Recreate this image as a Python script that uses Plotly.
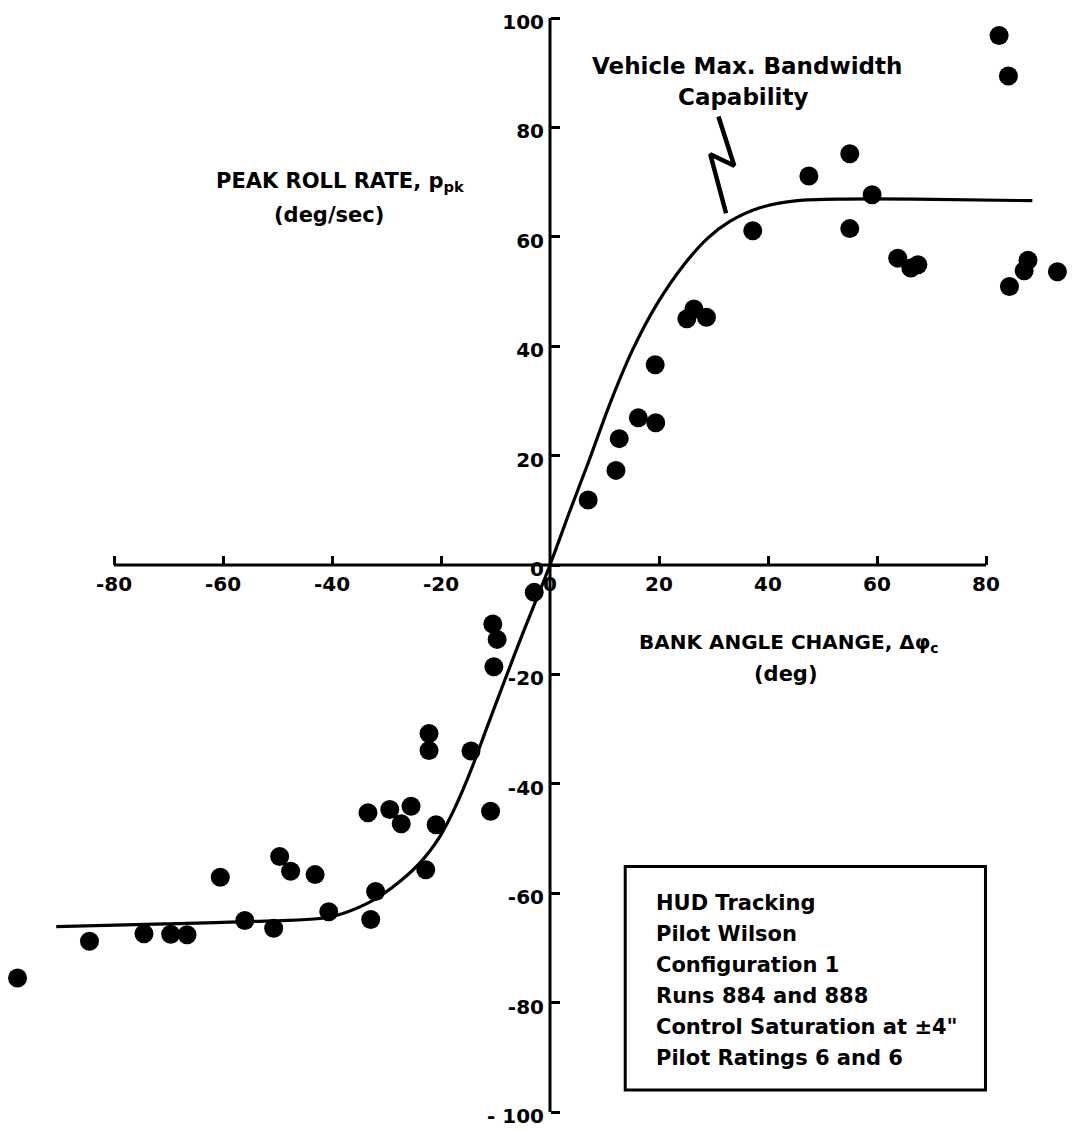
import plotly.graph_objects as go

# ---- data ----
bank_angle = [7.0, 12.1, 12.7, 16.2, 19.4, 19.3, 25.1, 26.4, 28.7, 37.2, 47.5, 55.0, 55.0,
              59.1, 63.8, 66.2, 67.5, 82.4, 84.1, 84.3, 87.0, 87.7, 93.1,
              -2.9, -10.5, -9.7, -10.3, -10.9, -14.5, -22.2, -22.2, -20.9, -22.8, -25.5,
              -27.3, -29.4, -33.4, -32.0, -32.9, -40.6, -43.1, -47.6, -49.6, -50.7, -56.0,
              -60.5, -66.6, -69.6, -74.5, -84.5, -97.7]
peak_roll = [11.9, 17.3, 23.1, 26.9, 26.0, 36.6, 45.0, 46.8, 45.3, 61.1, 71.1, 75.2, 61.5,
             67.7, 56.1, 54.3, 54.9, 96.8, 89.4, 50.9, 53.8, 55.7, 53.6,
             -5.0, -10.8, -13.6, -18.6, -45.0, -34.0, -30.8, -33.9, -47.5, -55.7, -44.1,
             -47.3, -44.7, -45.3, -59.7, -64.8, -63.4, -56.6, -56.0, -53.3, -66.4, -65.0,
             -57.1, -67.6, -67.5, -67.4, -68.8, -75.5]

curve_x = [-90.6, -70.5, -55.9, -40.6, -33.8, -28.9, -24.0, -20.3, -17.5, -14.5, -11.5, -8.2,
           -5.2, -2.5, 0, 3.5, 7.2, 11.0, 15.0, 19.5, 24.5, 29.0, 33.0, 38.5, 45.4, 54.0,
           66.8, 88.5]
curve_y = [-66.1, -65.6, -65.2, -64.4, -62.0, -58.9, -54.6, -49.8, -44.5, -37.5, -29.5, -20.8,
           -13.0, -6.3, 0, 9.5, 19.2, 29.5, 39.0, 47.5, 54.8, 59.8, 62.8, 65.3, 66.6, 66.9,
           66.9, 66.6]

leader_x = [32.3, 29.4, 33.8, 30.9]
leader_y = [64.3, 75.1, 73.0, 82.0]

x_ticks = [-80, -60, -40, -20, 0, 20, 40, 60, 80]
x_ticktext = ["-80", "-60", "-40", "-20", "0", "20", "40", "60", "80"]
y_ticks = [100, 80, 60, 40, 20, 0, -20, -40, -60, -80, -100]
y_ticktext = ["100", "80", "60", "40", "20", "0", "-20", "-40", "-60", "-80", "- 100"]

box_lines = ["HUD Tracking", "Pilot Wilson", "Configuration 1", "Runs 884 and 888",
             "Control Saturation at \u00b14\"", "Pilot Ratings 6 and 6"]

FONT = "DejaVu Sans"
# the page body has an 8px margin, so the figure is 8px smaller and the ranges are set
# so that the axes land where the reference puts them
FIG_W, FIG_H = 1071, 1122
X_RANGE = [-99.45, 97.06]
Y_RANGE = [-103.29, 101.83]

fig = go.Figure()

fig.add_trace(go.Scatter(x=curve_x, y=curve_y, mode="lines",
                         line=dict(color="black", width=3.2, shape="spline", smoothing=0.8),
                         hoverinfo="skip", showlegend=False))
fig.add_trace(go.Scatter(x=leader_x, y=leader_y, mode="lines",
                         line=dict(color="black", width=4.5),
                         hoverinfo="skip", showlegend=False))
fig.add_trace(go.Scatter(x=bank_angle, y=peak_roll, mode="markers",
                         marker=dict(color="black", size=19, line=dict(width=0)),
                         showlegend=False))

# axis lines (crossing at the origin)
axis_line = dict(color="black", width=3)
fig.add_shape(type="line", x0=x_ticks[0], x1=x_ticks[-1], y0=0, y1=0, line=axis_line, layer="below")
fig.add_shape(type="line", x0=0, x1=0, y0=y_ticks[-1], y1=y_ticks[0], line=axis_line, layer="below")

# info box
fig.add_shape(type="rect", x0=13.8, x1=79.9, y0=-96.0, y1=-55.1,
              line=dict(color="black", width=3), fillcolor="rgba(0,0,0,0)")
for i, t in enumerate(box_lines):
    fig.add_annotation(x=19.0, y=-61.7 - i * 5.7, text=t, showarrow=False,
                       xanchor="left", yanchor="middle",
                       font=dict(family=FONT, size=21, color="black", weight="bold"))

# axis titles
title_font = dict(family=FONT, size=21, color="black", weight="bold")
fig.add_annotation(x=-38.4, y=70.0, text="PEAK ROLL RATE, p<sub>pk</sub>", showarrow=False,
                   xanchor="center", yanchor="middle", font=title_font)
fig.add_annotation(x=-40.5, y=64.0, text="(deg/sec)", showarrow=False,
                   xanchor="center", yanchor="middle", font=title_font)
fig.add_annotation(x=43.8, y=-14.2, text="BANK ANGLE CHANGE, \u0394\u03c6<sub>c</sub>", showarrow=False,
                   xanchor="center", yanchor="middle",
                   font=dict(family=FONT, size=20, color="black", weight="bold"))
fig.add_annotation(x=43.3, y=-19.9, text="(deg)", showarrow=False,
                   xanchor="center", yanchor="middle", font=title_font)

# curve annotation
note_font = dict(family=FONT, size=23, color="black", weight="bold")
fig.add_annotation(x=36.2, y=91.3, text="Vehicle Max. Bandwidth", showarrow=False,
                   xanchor="center", yanchor="middle", font=note_font)
fig.add_annotation(x=35.5, y=85.6, text="Capability", showarrow=False,
                   xanchor="center", yanchor="middle", font=note_font)

tickfont = dict(family=FONT, size=20, color="black", weight="bold")
fig.update_xaxes(range=X_RANGE, showgrid=False, zeroline=False, showline=False,
                 automargin=False, ticklabeloverflow="allow",
                 anchor="free", position=(0 - Y_RANGE[0]) / (Y_RANGE[1] - Y_RANGE[0]),
                 tickmode="array", tickvals=x_ticks, ticktext=x_ticktext,
                 ticks="inside", ticklen=9, tickwidth=3, tickcolor="black",
                 tickfont=tickfont, ticklabelstandoff=5)
fig.update_yaxes(range=Y_RANGE, showgrid=False, zeroline=False, showline=False,
                 automargin=False, ticklabeloverflow="allow",
                 anchor="free", position=(0 - X_RANGE[0]) / (X_RANGE[1] - X_RANGE[0]),
                 tickmode="array", tickvals=y_ticks, ticktext=y_ticktext,
                 ticks="inside", ticklen=9, tickwidth=3, tickcolor="black",
                 tickfont=tickfont, ticklabelstandoff=6, ticklabelshift=4)

fig.update_layout(width=FIG_W, height=FIG_H, margin=dict(l=0, r=0, t=0, b=0, autoexpand=False),
                  paper_bgcolor="white", plot_bgcolor="white", showlegend=False)

fig.write_html("out.html")
